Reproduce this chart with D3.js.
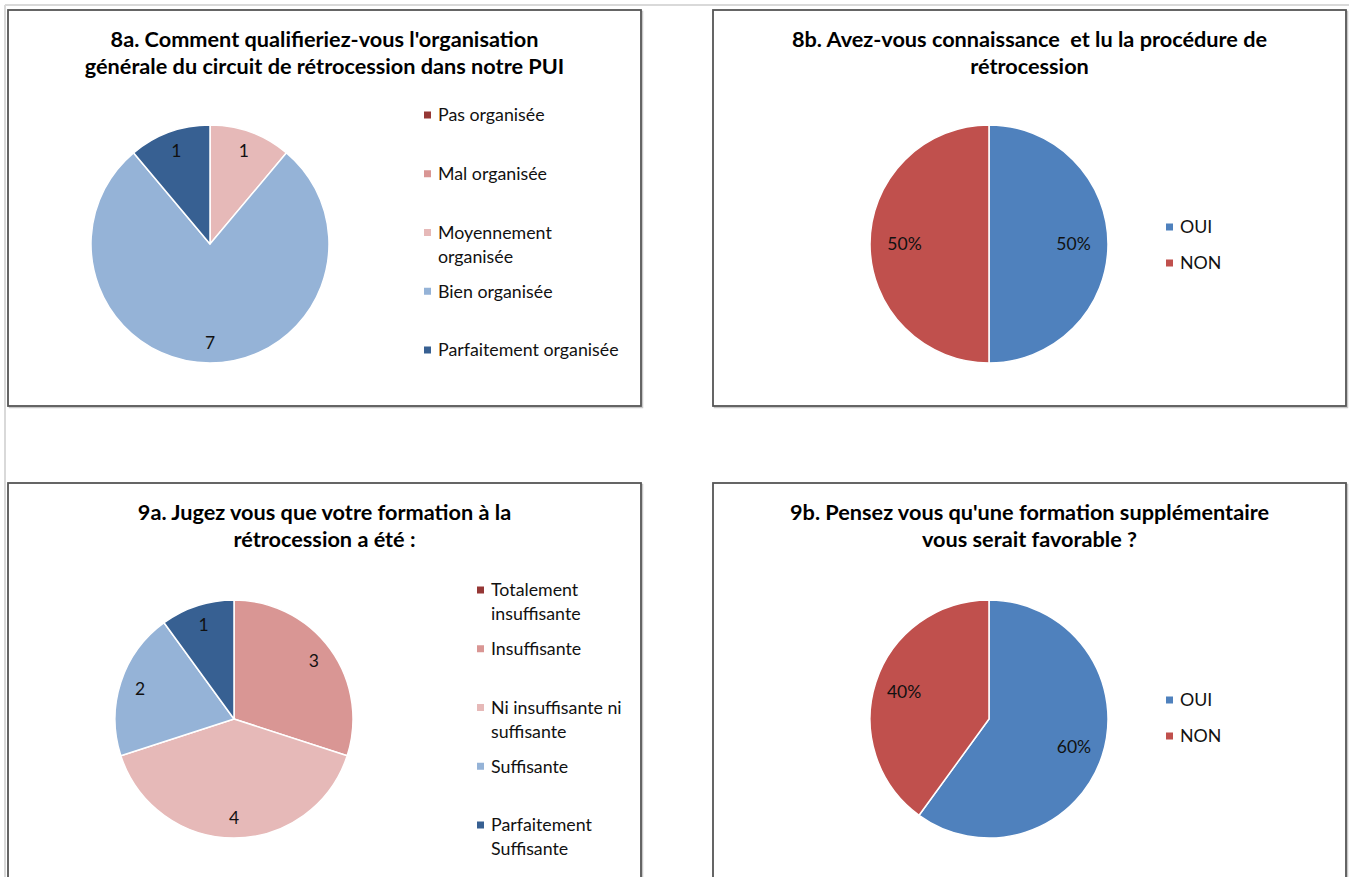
<!DOCTYPE html>
<html>
<head>
<meta charset="utf-8">
<script src="https://cdn.jsdelivr.net/npm/d3@7/dist/d3.min.js"></script>
<style>
  html, body { margin: 0; padding: 0; background: #fff; }
  svg { display: block; }
  text { font-family: Lato, "Noto Sans", sans-serif; white-space: pre; }
</style>
</head>
<body>
<svg id="chart" width="1349" height="877"></svg>
<script>
// ---------- DATA ----------
const titles8a = ["8a. Comment qualifieriez-vous l'organisation", "générale du circuit de rétrocession dans notre PUI"];
const categories8a = ["Pas organisée", "Mal organisée", "Moyennement organisée", "Bien organisée", "Parfaitement organisée"];
const legend8a = [["Pas organisée"], ["Mal organisée"], ["Moyennement", "organisée"], ["Bien organisée"], ["Parfaitement organisée"]];
const values8a = [0, 0, 1, 7, 1];

const titles8b = ["8b. Avez-vous connaissance  et lu la procédure de", "rétrocession"];
const categories8b = ["OUI", "NON"];
const values8b = [50, 50];

const titles9a = ["9a. Jugez vous que votre formation à la", "rétrocession a été :"];
const categories9a = ["Totalement insuffisante", "Insuffisante", "Ni insuffisante ni suffisante", "Suffisante", "Parfaitement Suffisante"];
const legend9a = [["Totalement", "insuffisante"], ["Insuffisante"], ["Ni insuffisante ni", "suffisante"], ["Suffisante"], ["Parfaitement", "Suffisante"]];
const values9a = [0, 3, 4, 2, 1];

const titles9b = ["9b. Pensez vous qu'une formation supplémentaire", "vous serait favorable ?"];
const categories9b = ["OUI", "NON"];
const values9b = [60, 40];

// ---------- STYLES ----------
const scaleColors5 = ["#953735", "#D99694", "#E6B9B8", "#95B3D7", "#376092"];
const yesNoColors = ["#4F81BD", "#C0504D"];

const svg = d3.select("#chart");
svg.append("rect").attr("width", 1349).attr("height", 877).attr("fill", "#fff");

// faint sheet gridlines
svg.append("line").attr("x1", 5).attr("x2", 1349).attr("y1", 5).attr("y2", 5).attr("stroke", "#d9d9d9").attr("stroke-width", 2);
svg.append("line").attr("x1", 5).attr("x2", 5).attr("y1", 5).attr("y2", 877).attr("stroke", "#d9d9d9").attr("stroke-width", 2);

const panels = [
  { x: 8, y: 10, w: 633, h: 396, title: titles8a, cats: categories8a, legend: legend8a, values: values8a, colors: scaleColors5,
    cx: 210, cy: 244, r: 119, labelR: 0.83, fmt: d => String(d),
    legX: 424, legY0: 115, legStep: 58.75 },
  { x: 713, y: 10, w: 633, h: 396, title: titles8b, cats: categories8b, legend: categories8b.map(c => [c]), values: values8b, colors: yesNoColors,
    cx: 989, cy: 244, r: 119, labelR: 0.71, fmt: d => d + "%",
    legX: 1166, legY0: 227, legStep: 36 },
  { x: 8, y: 483, w: 633, h: 396, title: titles9a, cats: categories9a, legend: legend9a, values: values9a, colors: scaleColors5,
    cx: 234, cy: 719, r: 119, labelR: 0.83, fmt: d => String(d),
    legX: 477, legY0: 590, legStep: 58.75 },
  { x: 713, y: 483, w: 633, h: 396, title: titles9b, cats: categories9b, legend: categories9b.map(c => [c]), values: values9b, colors: yesNoColors,
    cx: 989, cy: 719, r: 119, labelR: 0.75, fmt: d => d + "%",
    legX: 1166, legY0: 700, legStep: 36 }
];

panels.forEach(p => {
  const g = svg.append("g");
  // border with slight shadow
  g.append("rect").attr("x", p.x + 1.5).attr("y", p.y + 1.5).attr("width", p.w).attr("height", p.h)
    .attr("fill", "none").attr("stroke", "#c8c8c8").attr("stroke-width", 1.5);
  g.append("rect").attr("x", p.x).attr("y", p.y).attr("width", p.w).attr("height", p.h)
    .attr("fill", "#fff").attr("stroke", "#555").attr("stroke-width", 1.8);

  // title
  const tcx = p.x + p.w / 2;
  p.title.forEach((line, i) => {
    g.append("text").attr("x", tcx).attr("y", p.y + 37 + i * 27)
      .attr("text-anchor", "middle").attr("font-weight", "bold").attr("font-size", 21.7)
      .attr("fill", "#000").text(line);
  });

  // pie
  const color = d3.scaleOrdinal().domain(p.cats).range(p.colors);
  const pie = d3.pie().sort(null).value(d => d.v);
  const data = p.cats.map((c, i) => ({ c, v: p.values[i] }));
  const arcs = pie(data);
  const arc = d3.arc().innerRadius(0).outerRadius(p.r);
  const labelArc = d3.arc().innerRadius(p.r * p.labelR).outerRadius(p.r * p.labelR);
  const pg = g.append("g").attr("transform", `translate(${p.cx},${p.cy})`);
  pg.selectAll("path").data(arcs.filter(a => a.data.v > 0)).join("path")
    .attr("d", arc).attr("fill", d => color(d.data.c))
    .attr("stroke", "#fff").attr("stroke-width", 1.5).attr("stroke-linejoin", "round");
  pg.selectAll("text").data(arcs.filter(a => a.data.v > 0)).join("text")
    .attr("transform", d => `translate(${labelArc.centroid(d)})`)
    .attr("text-anchor", "middle").attr("dy", "0.36em")
    .attr("font-size", 17.5).attr("fill", "#111")
    .text(d => p.fmt(d.data.v));

  // legend
  const ly = d3.scaleLinear().domain([0, 1]).range([p.legY0, p.legY0 + p.legStep]);
  p.cats.forEach((c, i) => {
    const y = ly(i);
    g.append("rect").attr("x", p.legX).attr("y", y - 3.5).attr("width", 7).attr("height", 7).attr("fill", color(c));
    p.legend[i].forEach((line, j) => {
      g.append("text").attr("x", p.legX + 14).attr("y", y + j * 24).attr("dy", "0.36em")
        .attr("font-size", 17.8).attr("fill", "#111").text(line);
    });
  });
});
</script>
</body>
</html>
